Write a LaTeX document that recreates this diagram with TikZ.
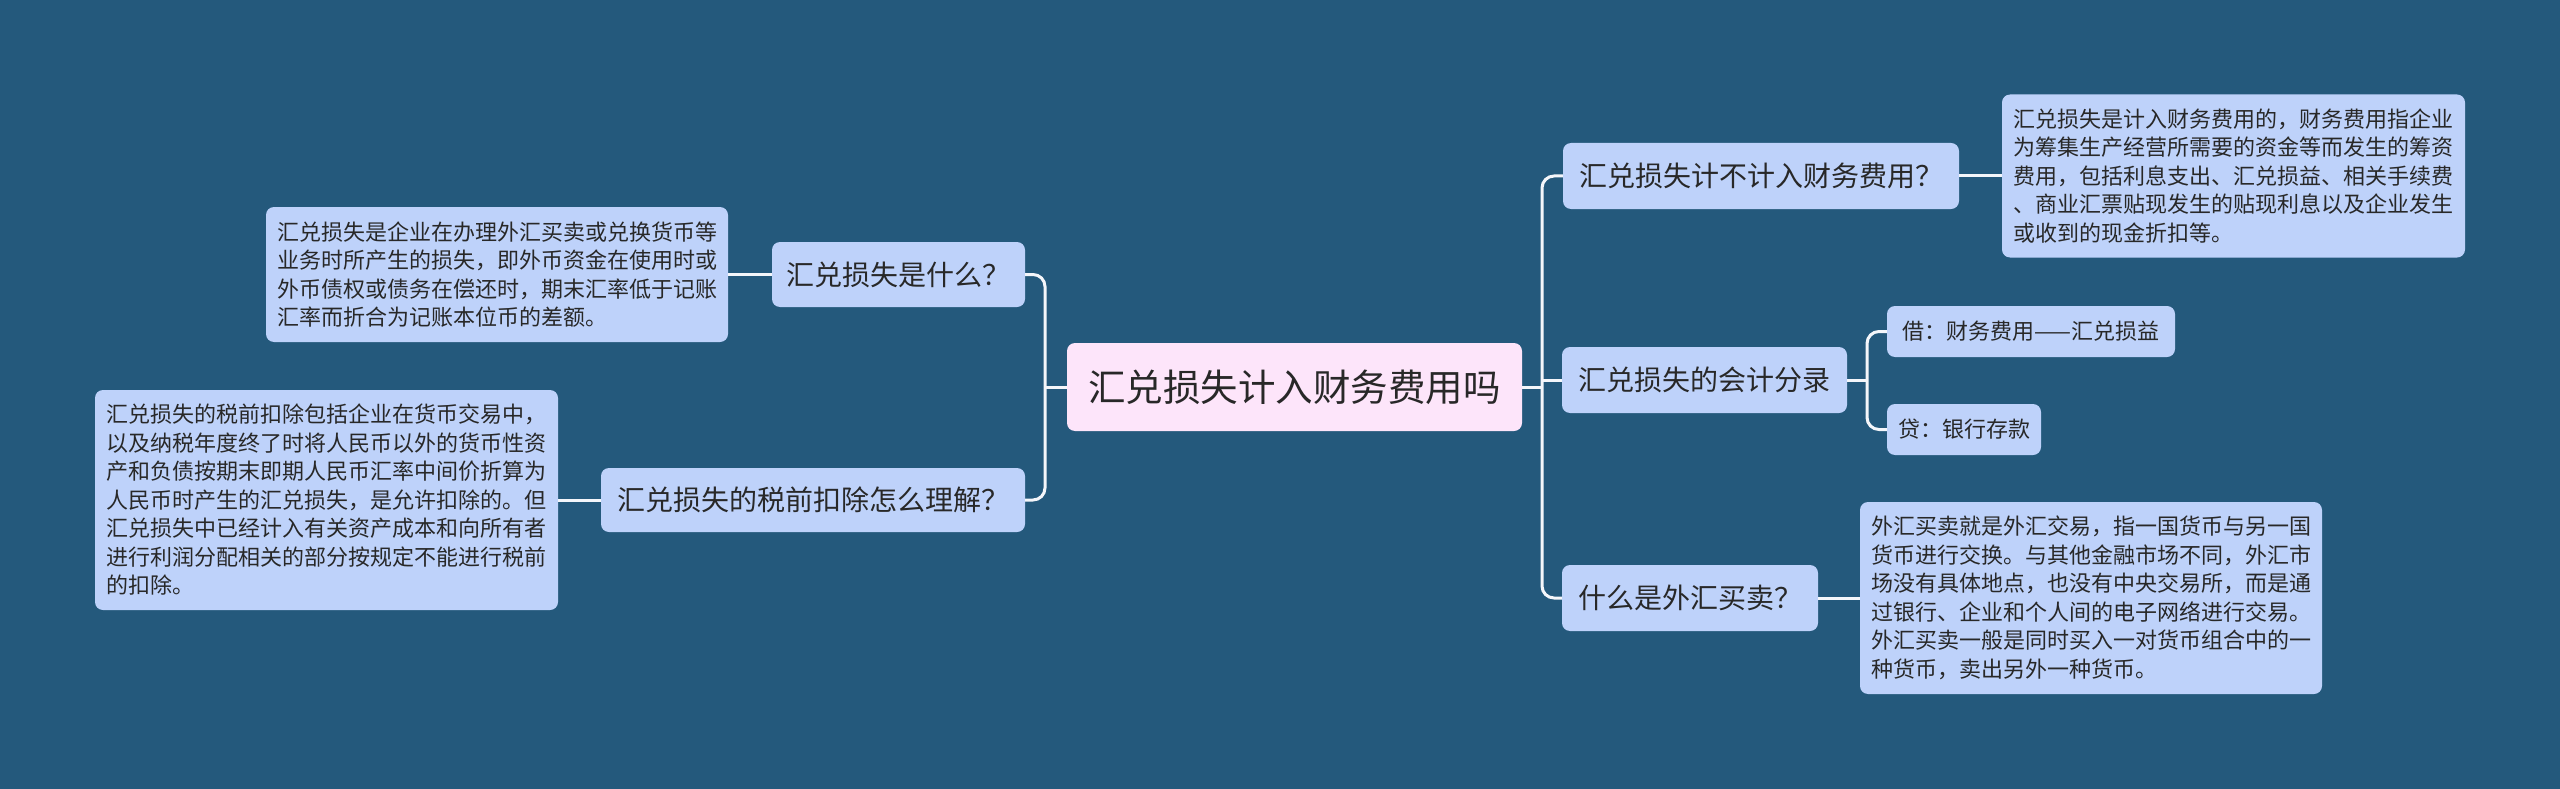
\documentclass[tikz,border=0pt]{standalone}
\usepackage{fontspec}
\setmainfont{Noto Sans CJK SC}
\definecolor{bg}{RGB}{36,89,124}
\definecolor{nodefill}{RGB}{190,210,250}
\definecolor{rootfill}{RGB}{253,229,250}
\definecolor{txt}{RGB}{40,40,40}
\definecolor{linecol}{RGB}{244,246,250}
\tikzset{
  box/.style={fill=nodefill, rounded corners=8pt, text=txt, inner sep=0pt, align=left},
  lvl/.style={box, font=\fontsize{28}{34}\selectfont},
  leaf/.style={box, font=\fontsize{22}{28.5}\selectfont},
  conn/.style={draw=linecol, line width=3pt, rounded corners=12pt},
}
\begin{document}
\begin{tikzpicture}[x=1pt,y=-1pt]
\fill[bg] (0,0) rectangle (2560,789);
\useasboundingbox (0,0) rectangle (2560,789);

\node[box, fill=rootfill, minimum width=455pt, minimum height=88pt, font=\fontsize{37.5}{42}\selectfont] (root) at (1294.5,387) {汇兑损失计入财务费用吗};

% left side
\node[lvl, minimum width=253pt, minimum height=65pt] (la) at (898.5,274.5) {汇兑损失是什么？};
\node[lvl, minimum width=424pt, minimum height=64pt] (lb) at (813,500) {汇兑损失的税前扣除怎么理解？};
\node[leaf, minimum width=462pt, minimum height=135pt] (lax) at (497,274.5) {汇兑损失是企业在办理外汇买卖或兑换货币等\\业务时所产生的损失，即外币资金在使用时或\\外币债权或债务在偿还时，期末汇率低于记账\\汇率而折合为记账本位币的差额。};
\node[leaf, minimum width=463pt, minimum height=220pt] (lbx) at (326.5,500) {汇兑损失的税前扣除包括企业在货币交易中，\\以及纳税年度终了时将人民币以外的货币性资\\产和负债按期末即期人民币汇率中间价折算为\\人民币时产生的汇兑损失，是允许扣除的。但\\汇兑损失中已经计入有关资产成本和向所有者\\进行利润分配相关的部分按规定不能进行税前\\的扣除。};

% right side
\node[lvl, minimum width=396pt, minimum height=66pt] (r1) at (1761,176) {汇兑损失计不计入财务费用？};
\node[leaf, minimum width=463pt, minimum height=163pt] (r1x) at (2233.5,176) {汇兑损失是计入财务费用的，财务费用指企业\\为筹集生产经营所需要的资金等而发生的筹资\\费用，包括利息支出、汇兑损益、相关手续费\\、商业汇票贴现发生的贴现利息以及企业发生\\或收到的现金折扣等。};
\node[lvl, minimum width=285pt, minimum height=66pt] (r2) at (1704.5,380) {汇兑损失的会计分录};
\node[leaf, minimum width=288pt, minimum height=51pt] (r2a) at (2031,331.5) {借：财务费用——汇兑损益};
\node[leaf, minimum width=154pt, minimum height=51pt] (r2b) at (1964,429.5) {贷：银行存款};
\node[lvl, minimum width=256pt, minimum height=66pt] (r3) at (1690,598) {什么是外汇买卖？};
\node[leaf, minimum width=462pt, minimum height=192pt] (r3x) at (2091,598) {外汇买卖就是外汇交易，指一国货币与另一国\\货币进行交换。与其他金融市场不同，外汇市\\场没有具体地点，也没有中央交易所，而是通\\过银行、企业和个人间的电子网络进行交易。\\外汇买卖一般是同时买入一对货币组合中的一\\种货币，卖出另外一种货币。};

% connectors
\coordinate (tl) at (1045,387);
\coordinate (tr) at (1542,387);
\coordinate (tr2) at (1542,380);
\coordinate (t2) at (1867,380);

\draw[conn] (root.west) -- (tl);
\draw[conn] (la.east) -| (tl) |- (lb.east);
\draw[conn] (la.west) -- (lax.east);
\draw[conn] (lb.west) -- (lbx.east);

\draw[conn] (root.east) -- (tr);
\draw[conn] (r1.west) -| (tr) |- (r3.west);
\draw[conn] (tr2) -- (r2.west);
\draw[conn] (r1.east) -- (r1x.west);
\draw[conn] (r3.east) -- (r3x.west);
\draw[conn] (r2.east) -- (t2);
\draw[conn] (r2a.west) -| (t2) |- (r2b.west);
\end{tikzpicture}
\end{document}
